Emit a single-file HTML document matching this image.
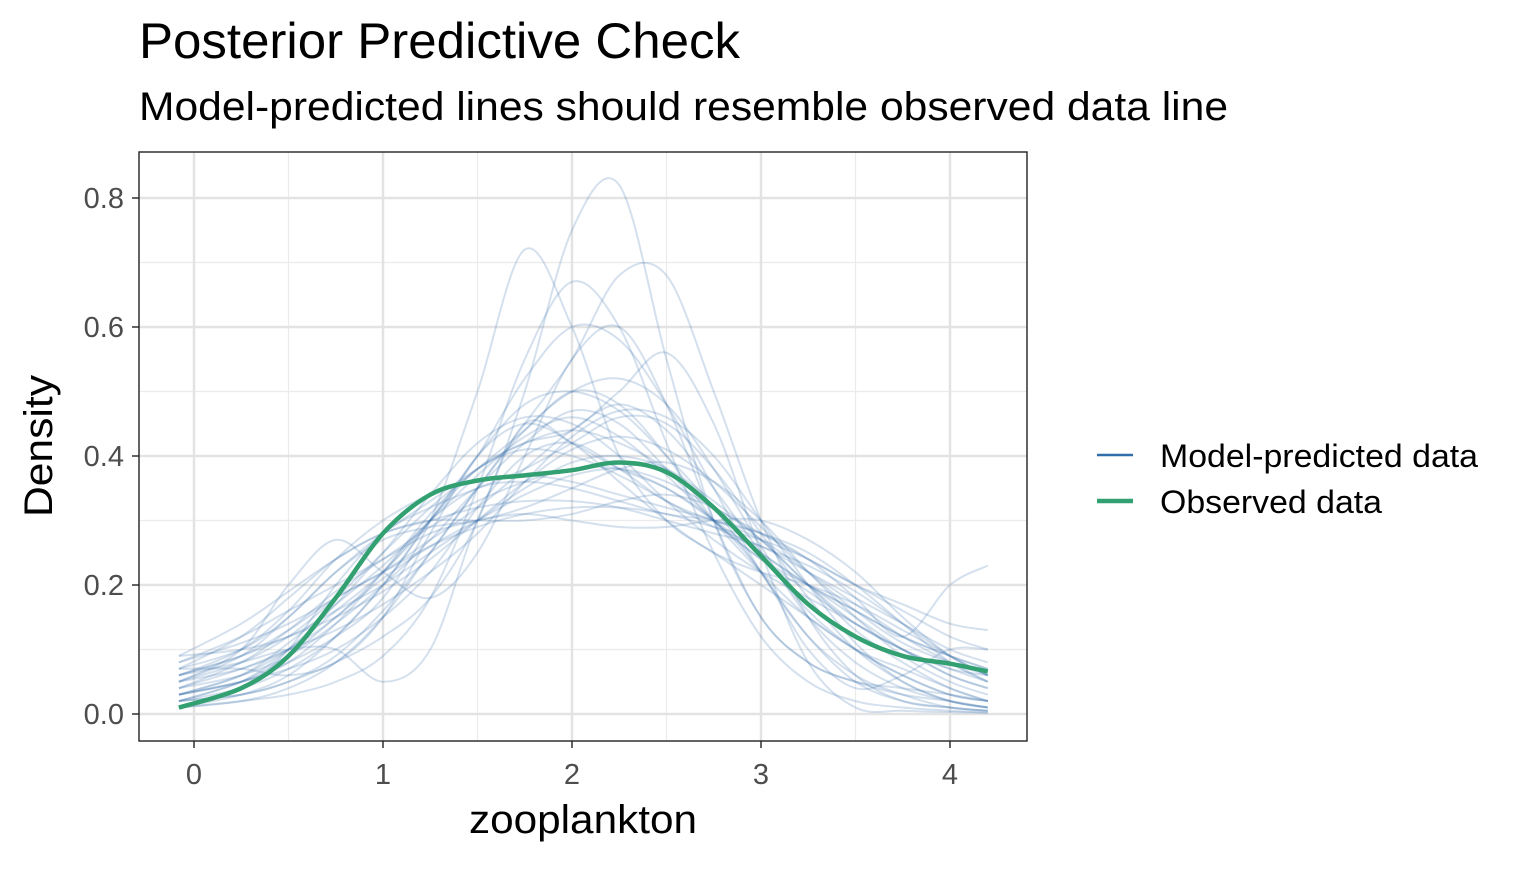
<!DOCTYPE html>
<html><head><meta charset="utf-8"><style>
body{margin:0;background:#fff;font-family:"Liberation Sans",Arial,sans-serif}
svg text{font-family:"Liberation Sans",Arial,sans-serif}
</style></head><body>
<svg id="chart" width="1536" height="864" viewBox="0 0 1536 864" xmlns="http://www.w3.org/2000/svg">
<rect width="1536" height="864" fill="#fff"/>
<text x="139" y="58" font-size="50" fill="#000" textLength="601" lengthAdjust="spacingAndGlyphs">Posterior Predictive Check</text>
<text x="139" y="120" font-size="40" fill="#000" textLength="1089" lengthAdjust="spacingAndGlyphs">Model-predicted lines should resemble observed data line</text>
<g id="grid"></g><g id="preds"></g><g id="obs"></g><g id="axes"></g>
<rect x="139" y="152" width="888" height="589" fill="none" stroke="#222" stroke-width="1.4"/>
<text x="583" y="833" font-size="40" text-anchor="middle" fill="#000" textLength="228" lengthAdjust="spacingAndGlyphs">zooplankton</text>
<text transform="translate(52,446) rotate(-90)" font-size="40" text-anchor="middle" fill="#000" textLength="142" lengthAdjust="spacingAndGlyphs">Density</text>
<g>
<line x1="1097" y1="455" x2="1133" y2="455" stroke="#2f6ea8" stroke-width="2.5"/>
<text x="1160" y="467" font-size="32" textLength="318" lengthAdjust="spacingAndGlyphs">Model-predicted data</text>
<line x1="1097" y1="501" x2="1133" y2="501" stroke="#33a072" stroke-width="4.5"/>
<text x="1160" y="513" font-size="32" textLength="222" lengthAdjust="spacingAndGlyphs">Observed data</text>
</g>
</svg>
<script>
const xGrid=[-0.08,0.25,0.5,0.75,1,1.25,1.5,1.75,2,2.25,2.5,2.75,3,3.25,3.5,3.75,4,4.2];
const observed=[0.01,0.04,0.09,0.18,0.28,0.34,0.362,0.37,0.378,0.39,0.375,0.32,0.245,0.17,0.12,0.09,0.078,0.066];
const predicted=[
[0.02,0.03,0.05,0.08,0.12,0.18,0.3,0.5,0.75,0.82,0.55,0.3,0.15,0.08,0.05,0.03,0.02,0.01],
[0.03,0.05,0.08,0.12,0.18,0.3,0.5,0.72,0.6,0.4,0.3,0.25,0.2,0.15,0.1,0.07,0.04,0.02],
[0.01,0.02,0.04,0.08,0.15,0.25,0.35,0.45,0.55,0.68,0.68,0.5,0.3,0.15,0.06,0.02,0.01,0.005],
[0.07,0.1,0.15,0.22,0.28,0.33,0.38,0.42,0.44,0.42,0.38,0.32,0.25,0.2,0.15,0.1,0.06,0.04],
[0.05,0.08,0.12,0.18,0.25,0.32,0.38,0.44,0.5,0.48,0.4,0.3,0.22,0.15,0.1,0.06,0.03,0.02],
[0.09,0.14,0.19,0.24,0.28,0.3,0.32,0.33,0.33,0.32,0.3,0.28,0.26,0.22,0.18,0.14,0.1,0.08],
[0.03,0.06,0.1,0.16,0.22,0.3,0.4,0.52,0.6,0.58,0.48,0.35,0.22,0.12,0.06,0.03,0.01,0.005],
[0.06,0.1,0.16,0.24,0.3,0.34,0.36,0.37,0.36,0.34,0.32,0.3,0.27,0.22,0.17,0.12,0.08,0.05],
[0.01,0.04,0.1,0.2,0.28,0.32,0.35,0.38,0.42,0.46,0.45,0.38,0.28,0.18,0.1,0.05,0.02,0.01],
[0.04,0.06,0.09,0.14,0.2,0.27,0.35,0.42,0.47,0.45,0.38,0.3,0.24,0.2,0.16,0.12,0.09,0.07],
[0.08,0.12,0.16,0.2,0.24,0.28,0.3,0.31,0.3,0.29,0.29,0.3,0.3,0.27,0.22,0.15,0.09,0.06],
[0.02,0.05,0.1,0.17,0.25,0.34,0.42,0.46,0.45,0.4,0.33,0.27,0.22,0.18,0.14,0.1,0.06,0.04],
[0.06,0.09,0.13,0.18,0.22,0.27,0.32,0.38,0.44,0.48,0.44,0.35,0.25,0.16,0.1,0.06,0.03,0.02],
[0.05,0.1,0.2,0.27,0.22,0.18,0.25,0.4,0.55,0.6,0.48,0.3,0.15,0.08,0.05,0.04,0.03,0.02],
[0.03,0.05,0.07,0.1,0.15,0.22,0.32,0.4,0.42,0.38,0.33,0.3,0.28,0.25,0.2,0.14,0.08,0.05],
[0.07,0.07,0.06,0.08,0.15,0.28,0.4,0.45,0.42,0.36,0.3,0.25,0.22,0.2,0.17,0.13,0.09,0.06],
[0.04,0.08,0.13,0.19,0.24,0.29,0.33,0.36,0.38,0.38,0.35,0.3,0.25,0.2,0.16,0.12,0.09,0.07],
[0.01,0.02,0.03,0.05,0.09,0.18,0.35,0.55,0.67,0.6,0.42,0.25,0.12,0.05,0.02,0.01,0.005,0.002],
[0.06,0.08,0.1,0.1,0.05,0.1,0.3,0.45,0.42,0.38,0.35,0.3,0.22,0.1,0.04,0.06,0.1,0.1],
[0.08,0.11,0.14,0.18,0.22,0.26,0.29,0.31,0.32,0.32,0.31,0.29,0.27,0.24,0.2,0.17,0.14,0.13],
[0.02,0.04,0.07,0.12,0.2,0.3,0.38,0.42,0.44,0.5,0.56,0.45,0.25,0.08,0.01,0.005,0.003,0.002],
[0.05,0.07,0.1,0.15,0.22,0.3,0.35,0.36,0.35,0.33,0.31,0.3,0.28,0.24,0.18,0.12,0.2,0.23],
[0.03,0.06,0.11,0.17,0.23,0.3,0.37,0.43,0.46,0.43,0.37,0.3,0.24,0.19,0.14,0.1,0.07,0.05],
[0.09,0.1,0.12,0.16,0.2,0.25,0.3,0.35,0.39,0.4,0.38,0.33,0.27,0.2,0.13,0.08,0.04,0.02],
[0.02,0.05,0.09,0.15,0.21,0.26,0.3,0.34,0.37,0.38,0.36,0.32,0.28,0.24,0.2,0.16,0.12,0.1],
[0.04,0.07,0.1,0.13,0.17,0.22,0.28,0.36,0.43,0.47,0.46,0.4,0.3,0.2,0.11,0.05,0.02,0.01],
[0.07,0.12,0.18,0.24,0.28,0.3,0.3,0.3,0.31,0.33,0.34,0.32,0.27,0.2,0.14,0.1,0.07,0.06],
[0.01,0.03,0.06,0.12,0.2,0.3,0.4,0.48,0.5,0.47,0.4,0.32,0.22,0.12,0.05,0.02,0.01,0.005],
[0.06,0.09,0.12,0.15,0.19,0.24,0.3,0.36,0.41,0.43,0.41,0.36,0.29,0.22,0.16,0.11,0.08,0.06],
[0.03,0.05,0.08,0.14,0.22,0.31,0.38,0.41,0.4,0.37,0.33,0.29,0.26,0.23,0.19,0.14,0.09,0.06],
[0.05,0.09,0.15,0.22,0.27,0.29,0.3,0.32,0.35,0.38,0.39,0.36,0.3,0.22,0.15,0.09,0.05,0.03],
[0.02,0.03,0.05,0.09,0.16,0.25,0.35,0.44,0.5,0.52,0.48,0.38,0.26,0.15,0.08,0.04,0.02,0.01]
];
const xTicks=[0,1,2,3,4];
const yTicks=[0,0.2,0.4,0.6,0.8];
const NS="http://www.w3.org/2000/svg";
const X=v=>194+189*v, Y=v=>714-645*v;
function mk(tag,attrs,parent){const e=document.createElementNS(NS,tag);for(const k in attrs)e.setAttribute(k,attrs[k]);parent.appendChild(e);return e;}
function pathFor(ys){const p=xGrid.map((x,i)=>[X(x),Y(ys[i])]);let d="M"+p[0][0]+","+p[0][1];
for(let i=0;i<p.length-1;i++){const p0=p[Math.max(0,i-1)],p1=p[i],p2=p[i+1],p3=p[Math.min(p.length-1,i+2)];
d+=" C"+(p1[0]+(p2[0]-p0[0])/6)+","+(p1[1]+(p2[1]-p0[1])/6)+" "+(p2[0]-(p3[0]-p1[0])/6)+","+(p2[1]-(p3[1]-p1[1])/6)+" "+p2[0]+","+p2[1];}return d;}
const grid=document.getElementById("grid"),axes=document.getElementById("axes");
[0.5,1.5,2.5,3.5].forEach(v=>{const l=mk("line",{x1:X(v),x2:X(v),y1:152,y2:741,stroke:"#ebebeb","stroke-width":1.2},grid);

});
[0.1,0.3,0.5,0.7].forEach(v=>{const l=mk("line",{x1:139,x2:1027,y1:Y(v),y2:Y(v),stroke:"#ebebeb","stroke-width":1.2},grid);

});
xTicks.forEach(v=>{const l=mk("line",{x1:X(v),x2:X(v),y1:152,y2:741,stroke:"#e3e3e3","stroke-width":2.5},grid);


const t=mk("line",{x1:X(v),x2:X(v),y1:741,y2:748,stroke:"#222","stroke-width":1.4},axes);


const tx=mk("text",{x:X(v),y:784,"font-size":29,fill:"#4d4d4d","text-anchor":"middle"},axes);tx.textContent=v;

});
yTicks.forEach(v=>{const l=mk("line",{x1:139,x2:1027,y1:Y(v),y2:Y(v),stroke:"#e3e3e3","stroke-width":2.5},grid);


const t=mk("line",{x1:132,x2:139,y1:Y(v),y2:Y(v),stroke:"#222","stroke-width":1.4},axes);


const tx=mk("text",{x:124,y:Y(v)+10,"font-size":29,fill:"#4d4d4d","text-anchor":"end"},axes);tx.textContent=v.toFixed(1);

});
const pg=document.getElementById("preds");
predicted.forEach(s=>{const p=mk("path",{d:pathFor(s),fill:"none",stroke:"#3a72ab","stroke-opacity":0.22,"stroke-width":2},pg);

});
const o=mk("path",{d:pathFor(observed),fill:"none",stroke:"#33a072","stroke-width":4.5},document.getElementById("obs"));


</script>
</body></html>
